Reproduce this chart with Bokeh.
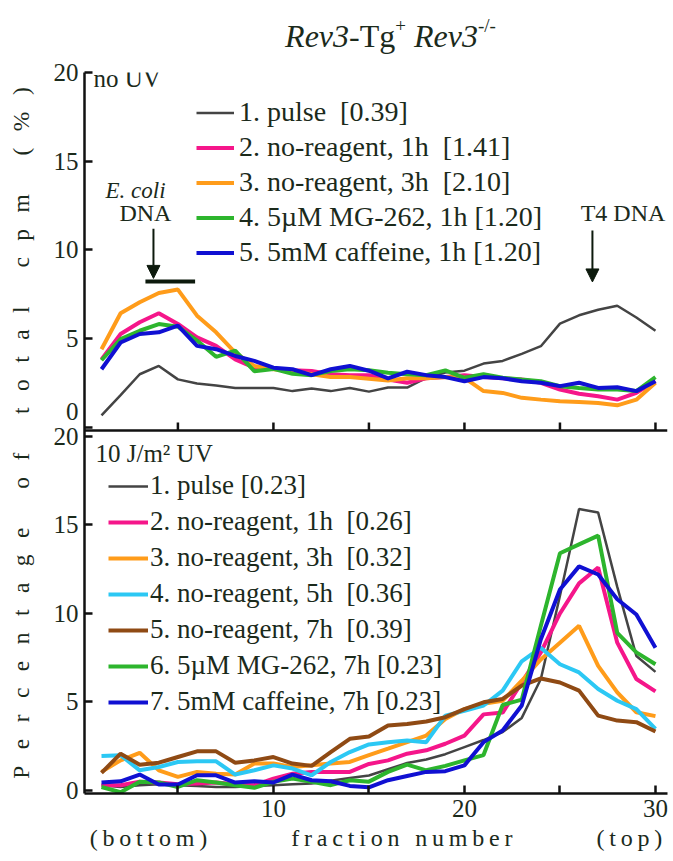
from bokeh.plotting import figure
from bokeh.models import (Range1d, FixedTicker, Legend, LegendItem, Label, Span,
                          Arrow, NormalHead)
from bokeh.layouts import column
from bokeh.embed import file_html
from bokeh.resources import INLINE
from bokeh.core.properties import value

# ---------------- data ----------------
fractions = list(range(1, 31))

# panel A: no UV
noUV_pulse = [0.68, 1.82, 3.0, 3.47, 2.71, 2.48, 2.37, 2.23, 2.23, 2.23, 2.05, 2.2, 2.05, 2.23, 2.02,
              2.25, 2.25, 2.8, 3.1, 3.2, 3.6, 3.75, 4.15, 4.58, 5.85, 6.32, 6.63, 6.86, 6.2, 5.45]
noUV_noreag_1h = [3.84, 5.27, 5.93, 6.44, 5.83, 5.08, 4.6, 3.84, 3.37, 3.33, 3.22, 3.18, 3.0, 2.95, 2.95,
                  2.7, 2.52, 2.77, 2.84, 2.95, 2.84, 2.77, 2.7, 2.52, 2.14, 1.9, 1.76, 1.57, 1.95, 2.61]
noUV_noreag_3h = [4.41, 6.44, 7.06, 7.58, 7.77, 6.3, 5.36, 4.22, 3.47, 3.28, 3.18, 3.0, 2.84, 2.84, 2.75,
                  2.65, 2.77, 2.77, 2.84, 2.8, 2.05, 1.95, 1.67, 1.57, 1.48, 1.44, 1.38, 1.25, 1.57, 2.52]
noUV_mg262_1h = [3.79, 4.98, 5.45, 5.83, 5.68, 4.9, 3.98, 4.33, 3.17, 3.3, 3.03, 2.95, 3.18, 3.28, 3.22,
                 3.09, 3.0, 2.95, 3.22, 2.8, 3.0, 2.8, 2.7, 2.61, 2.33, 2.23, 2.14, 2.14, 2.05, 2.84]
noUV_caff_1h = [3.28, 4.79, 5.27, 5.36, 5.74, 4.6, 4.41, 4.03, 3.75, 3.37, 3.28, 2.95, 3.28, 3.47, 3.2,
                2.77, 3.14, 2.95, 2.84, 2.61, 2.84, 2.77, 2.61, 2.52, 2.33, 2.52, 2.23, 2.27, 2.05, 2.61]

# panel B: 10 J/m2 UV
uv_pulse = [0.3, 0.2, 0.3, 0.35, 0.3, 0.25, 0.2, 0.2, 0.25, 0.3, 0.35, 0.4, 0.55, 0.7, 0.85,
            1.2, 1.55, 1.75, 2.05, 2.45, 2.85, 3.3, 4.1, 6.3, 11.0, 15.9, 15.7, 11.5, 7.6, 6.7]
uv_noreag_1h = [0.3, 0.3, 0.49, 0.45, 0.35, 0.4, 0.45, 0.35, 0.3, 0.67, 0.95, 1.05, 1.05, 1.05, 1.5,
                1.7, 2.08, 2.27, 2.64, 3.1, 4.3, 4.4, 6.1, 7.8, 10.0, 11.7, 12.6, 8.35, 6.3, 5.6]
uv_noreag_3h = [1.05, 1.7, 2.13, 1.14, 0.77, 1.05, 0.95, 0.9, 1.52, 1.52, 1.33, 1.42, 1.52, 1.61, 2.0,
                2.36, 2.73, 3.1, 4.04, 4.6, 4.9, 5.07, 6.2, 7.4, 8.35, 9.3, 7.04, 5.54, 4.42, 4.2]
uv_noreag_5h = [1.95, 1.99, 1.14, 1.33, 1.61, 1.65, 1.65, 0.9, 1.14, 1.42, 1.24, 0.86, 1.61, 2.17, 2.6,
                2.73, 2.83, 2.73, 4.23, 4.5, 4.8, 5.64, 7.3, 8.07, 7.13, 6.67, 5.73, 5.07, 4.6, 3.48]
uv_noreag_7h = [1.0, 2.08, 1.46, 1.57, 1.89, 2.21, 2.21, 1.57, 1.7, 1.89, 1.52, 1.39, 2.17, 2.92, 3.05,
                3.67, 3.76, 3.9, 4.14, 4.6, 4.98, 5.17, 5.92, 6.33, 6.1, 5.64, 4.23, 3.95, 3.86, 3.33]
uv_mg262_7h = [0.2, -0.1, 0.49, 0.45, 0.2, 0.58, 0.45, 0.3, 0.15, 0.49, 0.67, 0.49, 0.3, 0.58, 0.5,
               1.05, 1.46, 1.14, 1.39, 1.7, 2.0, 4.83, 5.13, 9.3, 13.4, 13.9, 14.4, 8.9, 7.8, 7.13]
uv_caff_7h = [0.45, 0.52, 0.9, 0.34, 0.34, 0.86, 0.86, 0.45, 0.52, 0.45, 0.9, 0.58, 0.52, 0.26, 0.18,
              0.58, 0.82, 1.05, 1.09, 1.42, 2.73, 3.39, 4.8, 8.54, 11.35, 12.66, 12.2, 10.8, 9.94, 8.07]

noUV_labels = ["1. pulse\u00a0\u00a0[0.39]", "2. no-reagent, 1h\u00a0\u00a0[1.41]",
               "3. no-reagent, 3h\u00a0\u00a0[2.10]", "4. 5\u00b5M MG-262, 1h\u00a0[1.20]",
               "5. 5mM caffeine, 1h\u00a0[1.20]"]
uv_labels = ["1. pulse\u00a0[0.23]", "2. no-reagent, 1h\u00a0\u00a0[0.26]",
             "3. no-reagent, 3h\u00a0\u00a0[0.32]", "4. no-reagent, 5h\u00a0\u00a0[0.36]",
             "5. no-reagent, 7h\u00a0\u00a0[0.39]", "6. 5\u00b5M MG-262, 7h\u00a0[0.23]",
             "7. 5mM caffeine, 7h\u00a0[0.23]"]

x_ticks = [5, 10, 15, 20, 25, 30]
x_labelled = [10, 20, 30]
y_ticks = [0, 5, 10, 15, 20]

# size-marker annotations (fraction positions, panel A values)
ecoli_fraction = 3.72
ecoli_band = (3.3, 5.9)
t4_fraction = 26.7

# ---------------- style ----------------
TEXT = "#1b2a1b"
SERIF = "Liberation Serif"
C_GRAY, C_PINK, C_ORANGE, C_GREEN = "#444444", "#f5168a", "#ff9c1a", "#2db52d"
C_BLUE, C_CYAN, C_BROWN = "#1010d2", "#2cc8f4", "#8f4a14"
AX = "#111111"
MARK = "#0d1a0d"
LEFT, RIGHT = 84, 6


def spaced(s, gap):
    return gap.join(s)


# ---------------- title ----------------
TH = 56
tp = figure(width=673, height=TH, x_range=(LEFT, 673 - RIGHT), y_range=(0, TH),
            toolbar_location=None, output_backend="svg", min_border_left=LEFT,
            min_border_right=RIGHT, min_border_top=0, min_border_bottom=0)
tp.axis.visible = False
tp.grid.visible = False
tp.outline_line_color = None
W_IT = {"R": .611, "e": .444, "v": .444, "3": .5}
W_RM = {"-": .333, "T": .611, "g": .5, "+": .564, "/": .278, " ": .25}
pieces = [("Rev3", "italic", 32, 0), ("-Tg", "normal", 32, 0), ("+", "normal", 19, 10),
          (" ", "normal", 32, 0), ("Rev3", "italic", 32, 0), ("-/-", "normal", 19, 10)]
widths = []
for s, st, sz, _ in pieces:
    tab = W_IT if st == "italic" else W_RM
    widths.append(sum(tab[c] for c in s) * sz)
xpos = 390 - sum(widths) / 2
for (s, st, sz, rise), w in zip(pieces, widths):
    if s.strip():
        tp.text(x=[xpos], y=[TH - 35 + rise], text=[s], text_font=value(SERIF),
                text_font_style=st, text_font_size=f"{sz}px", text_color=TEXT,
                text_align="left", text_baseline="middle")
    xpos += w

# ---------------- main figure: two stacked panels sharing one frame ----------------
FRAME_H = 721                      # pixel height of the shared frame
yB = Range1d(-0.17, 40.56)         # panel B (10 J/m2 UV) uses the lower part
yA = Range1d(-20.62, 20.0)         # panel A (no UV) uses the upper part
A_AXIS = -0.17                     # where panel A's own fraction axis lies
xr = Range1d(0.11, 30.63)

p = figure(width=673, height=805, x_range=xr, y_range=yB, toolbar_location=None,
           output_backend="svg", min_border_left=LEFT, min_border_right=RIGHT,
           min_border_top=16, min_border_bottom=68)
p.extra_y_ranges = {"A": yA}
p.grid.visible = False
p.outline_line_color = None


def a_to_b(v):
    """position of a panel-A value expressed on panel B's scale (same frame)"""
    f = (yA.end - v) / (yA.end - yA.start)
    return round(yB.end - f * (yB.end - yB.start), 6)


a_ticks = [a_to_b(v) for v in y_ticks]
ticks_all = y_ticks + a_ticks
overrides = {t: str(t) for t in y_ticks}
for v, t in zip(y_ticks, a_ticks):
    overrides[t] = str(v)
overrides[a_ticks[0]] = "0\n\u00a0"     # panel-A zero label sits raised

for ax in (p.xaxis[0], p.yaxis[0]):
    ax.axis_line_width = 2.5
    ax.axis_line_color = AX
    ax.major_tick_line_width = 2.5
    ax.major_tick_line_color = AX
    ax.major_tick_in = 8
    ax.major_tick_out = 0
    ax.minor_tick_line_width = 2.5
    ax.minor_tick_line_color = AX
    ax.minor_tick_in = 8
    ax.minor_tick_out = 0
    ax.major_label_text_font = SERIF
    ax.major_label_text_font_size = "25px"
    ax.major_label_text_color = TEXT
    ax.axis_label_text_font = SERIF
    ax.axis_label_text_font_style = "normal"
    ax.axis_label_text_color = TEXT

p.yaxis.ticker = FixedTicker(ticks=ticks_all, minor_ticks=[])
p.yaxis.major_label_overrides = overrides
p.yaxis.major_label_standoff = 6
p.yaxis.axis_label = spaced("Percentage of total cpm (%)", "\u2002\u2009")
p.yaxis.axis_label_text_font_size = "23.5px"
p.yaxis.axis_label_standoff = 17

p.xaxis.ticker = FixedTicker(ticks=x_labelled, minor_ticks=[5, 15, 25])
p.xaxis.major_label_standoff = 6
gap = "\u2009"
big = "\u2003\u2003\u2003\u2002"
p.xaxis.axis_label = (spaced("(bottom)", gap) + big + spaced("fraction number", gap) + big
                      + spaced("(top)", gap))
p.xaxis.axis_label_text_font_size = "24px"
p.xaxis.axis_label_standoff = 5

# panel A's fraction axis: line across the frame with inward ticks
tick_len = 8 * (yA.end - yA.start) / FRAME_H
p.add_layout(Span(location=A_AXIS, dimension="width", y_range_name="A",
                  line_color=AX, line_width=2.5))
p.segment(x0=x_ticks, x1=x_ticks, y0=[A_AXIS] * len(x_ticks),
          y1=[A_AXIS + tick_len] * len(x_ticks), y_range_name="A",
          line_color=AX, line_width=2.5)


def make_legend(labels, renderers, loc, size, h, spacing, glyph_w, standoff):
    items = [LegendItem(label=l, renderers=[r]) for l, r in zip(labels, renderers)]
    lg = Legend(items=items, location=loc, glyph_width=glyph_w, glyph_height=h,
                label_height=h, label_standoff=standoff, spacing=spacing, padding=0,
                margin=0, border_line_color=None, background_fill_alpha=0,
                label_text_font=SERIF, label_text_font_size=size,
                label_text_color=TEXT)
    p.add_layout(lg)


def txt_label(x, y, text, size="24px", **kw):
    opts = dict(text_font=SERIF, text_font_size=size, text_color=TEXT)
    opts.update(kw)
    p.add_layout(Label(x=x, y=y, text=text, **opts))


# panel A lines
ra = []
for ys, c, lw in [(noUV_pulse, C_GRAY, 2.5), (noUV_noreag_1h, C_PINK, 4), (noUV_noreag_3h, C_ORANGE, 4),
                  (noUV_mg262_1h, C_GREEN, 4), (noUV_caff_1h, C_BLUE, 4)]:
    ra.append(p.line(fractions, ys, line_color=c, line_width=lw, y_range_name="A"))

# panel B lines
rb = []
for ys, c, lw in [(uv_pulse, C_GRAY, 2.5), (uv_noreag_1h, C_PINK, 4), (uv_noreag_3h, C_ORANGE, 4),
                  (uv_noreag_5h, C_CYAN, 4), (uv_noreag_7h, C_BROWN, 4), (uv_mg262_7h, C_GREEN, 4),
                  (uv_caff_7h, C_BLUE, 4)]:
    rb.append(p.line(fractions, ys, line_color=c, line_width=lw))

make_legend(noUV_labels, ra, (112, 525), "28px", 31, 3, 38, 5)
make_legend(uv_labels, rb, (24, 76), "27px", 30, 5, 40, 2)

txt_label(9, 715, "no UV", size="25px", x_units="screen", y_units="screen", text_baseline="middle")
txt_label(11, 340, "10 J/m\u00b2 UV", size="25px", x_units="screen", y_units="screen",
          text_baseline="middle")

# size markers in panel A
txt_label(2.78, 13.35, "E. coli", size="23px", text_font_style="italic", text_align="center",
          text_baseline="middle", y_range_name="A")
txt_label(3.3, 12.06, "DNA", text_align="center", text_baseline="middle", y_range_name="A")
txt_label(28.3, 12.06, "T4 DNA", text_align="center", text_baseline="middle", y_range_name="A")
for xf, y0, y1 in [(ecoli_fraction, 11.2, 8.4), (t4_fraction, 11.1, 8.2)]:
    p.add_layout(Arrow(end=NormalHead(size=13, fill_color=MARK, line_color=MARK),
                       x_start=xf, y_start=y0, x_end=xf, y_end=y1, y_range_name="A",
                       line_width=2, line_color=MARK))
p.segment(x0=[ecoli_band[0]], x1=[ecoli_band[1]], y0=[8.23], y1=[8.23], line_width=4,
          line_color=MARK, y_range_name="A")

layout = column(tp, p)
open("out.html", "w").write(file_html(layout, INLINE))
